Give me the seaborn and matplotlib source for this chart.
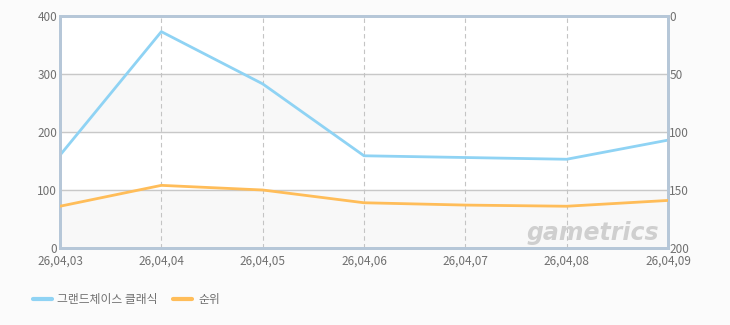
import matplotlib
matplotlib.use("Agg")
import matplotlib.pyplot as plt
import seaborn as sns
import pandas as pd
from matplotlib.lines import Line2D

dates = ["26,04,03", "26,04,04", "26,04,05", "26,04,06", "26,04,07", "26,04,08", "26,04,09"]
game_values = [160, 373, 283, 159, 156, 153, 186]
rank_values = [164, 146, 150, 161, 163, 164, 159]
left_ticks = [0, 100, 200, 300, 400]
right_ticks = [0, 50, 100, 150, 200]
series_names = ["그랜드체이스 클래식", "순위"]

sns.set_theme(style="white")
plt.rcParams['font.family'] = ['Noto Sans CJK KR', 'DejaVu Sans']

BLUE = "#8fd3f4"
ORANGE = "#ffbd59"
SPINE = "#b6c7d8"
TXT = "#707070"

df = pd.DataFrame({"x": list(range(len(dates))), "game": game_values, "rank": rank_values})

fig = plt.figure(figsize=(7.3, 3.25), dpi=100, facecolor="#fbfbfb")
ax = fig.add_axes([60/730, 1-248/325, 608/730, 232/325])
ax.set_facecolor("white")

for lo, hi in [(0, 100), (200, 300)]:
    ax.axhspan(lo, hi, color="#f8f8f8", zorder=0)

sns.lineplot(data=df, x="x", y="game", ax=ax, color=BLUE, linewidth=2, zorder=3)
ax.set_xlim(0, len(dates)-1)
ax.set_ylim(0, 400)
ax.set_yticks(left_ticks)
ax.set_xticks(range(len(dates)))
ax.set_xticklabels(dates)
ax.set_xlabel("")
ax.set_ylabel("")
for y in [100, 200, 300]:
    ax.axhline(y, color="#c8c8c8", linewidth=1, zorder=1)
for xi in range(1, len(dates)-1):
    ax.axvline(xi, color="#c4c4c4", linewidth=0.8, linestyle=(0, (4, 3)), zorder=1)

ax2 = ax.twinx()
sns.lineplot(data=df, x="x", y="rank", ax=ax2, color=ORANGE, linewidth=2, zorder=3)
ax2.set_ylim(200, 0)
ax2.set_yticks(right_ticks)
ax2.set_ylabel("")

for a in (ax, ax2):
    for s in a.spines.values():
        s.set_color(SPINE)
        s.set_linewidth(2)
    a.tick_params(axis="both", length=0, labelsize=8.5, labelcolor=TXT)
ax.tick_params(axis="x", pad=5)
ax.tick_params(axis="y", pad=2)
ax2.tick_params(axis="y", pad=1)

ax.text(0.985, 0.015, "gametrics", transform=ax.transAxes, ha="right", va="bottom",
        fontsize=17, fontstyle="italic", fontweight="bold", color="#cfcfcf",
        family="DejaVu Sans", zorder=2)

handles = [Line2D([], [], color=BLUE, linewidth=3), Line2D([], [], color=ORANGE, linewidth=3)]
fig.legend(handles, series_names, loc="center left", bbox_to_anchor=(22/730, 1-300/325),
           ncol=2, frameon=False, fontsize=8.5, handlelength=1.6, handletextpad=0.5,
           columnspacing=1.3, labelcolor=TXT)

fig.savefig("out.png", dpi=100, facecolor=fig.get_facecolor())
